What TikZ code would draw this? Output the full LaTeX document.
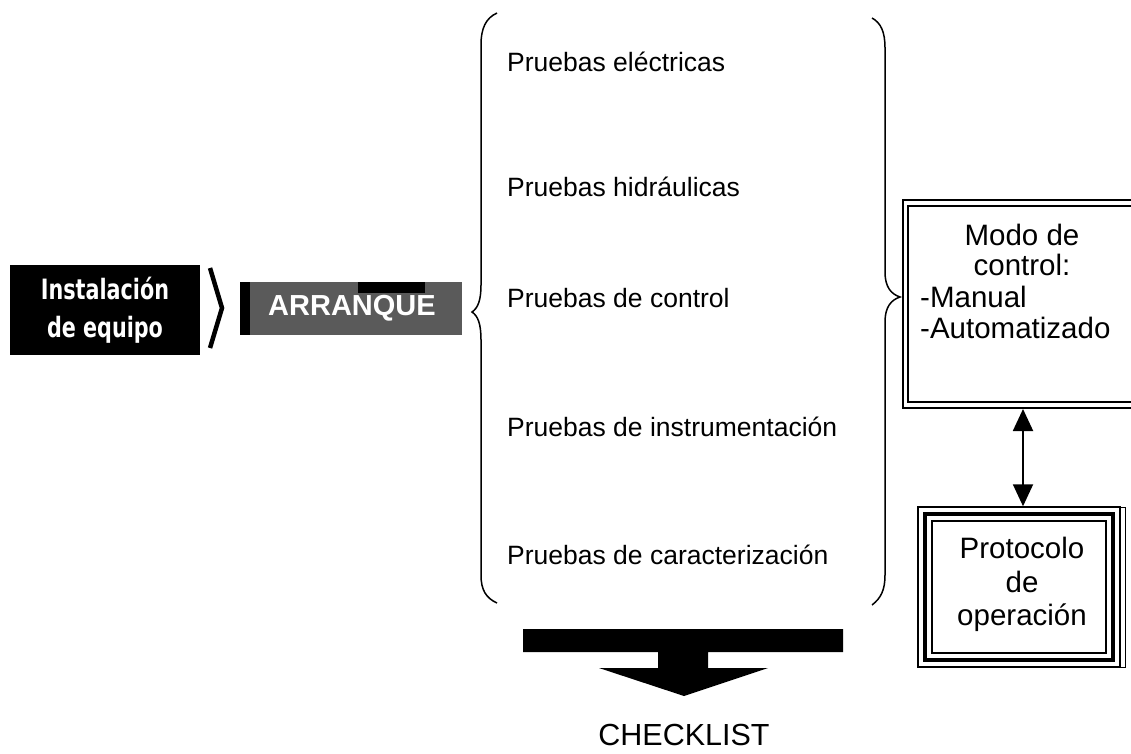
\documentclass[tikz,border=0pt]{standalone}
\usepackage{fontspec}
\setmainfont{Liberation Sans}
\newfontfamily\instfont{DejaVu Sans}
\usetikzlibrary{arrows.meta}
\definecolor{arrgray}{HTML}{5A5A5A}
\begin{document}
\begin{tikzpicture}[x=1pt,y=-1pt,
  prueba/.style={font=\fontsize{26.5}{30}\selectfont, anchor=base west, inner sep=0pt},
  boxtxt/.style={font=\fontsize{29.5}{32}\selectfont, inner sep=0pt},
  brace/.style={line width=1.5pt},
  dbl/.style={{Triangle[width=20pt,length=22pt]}-{Triangle[width=20pt,length=22pt]}, line width=2pt}]
\useasboundingbox (0,0) rectangle (1131,753);

% Instalacion de equipo
\node[fill=black, text=white, minimum width=190pt, minimum height=90pt, inner sep=0pt,
      align=center, font=\instfont\bfseries\fontsize{28}{38}\selectfont] (inst) at (105,310)
  {\scalebox{0.74}[1]{Instalación}\\\scalebox{0.74}[1]{de equipo}};

% chevron
\draw[line width=4.5pt] (210,268) -- (222,308) -- (210,348);

% ARRANQUE
\fill[black] (240,282) rectangle (250,335);
\node[fill=arrgray, text=white, minimum width=212pt, minimum height=53pt, inner sep=0pt,
      font=\bfseries\fontsize{29}{32}\selectfont] (arr) at (356,308.5) {\hspace*{-8pt}ARRANQUE};
\fill[black] (358,282) rectangle (425,293);

% left brace
\coordinate (lbtip) at (472,312);
\draw[brace] (497,13) .. controls (486,18) and (481,28) .. (481,45) -- (481,285)
  .. controls (481,300) and (478,308) .. (lbtip)
  .. controls (478,316) and (481,324) .. (481,340) -- (481,575)
  .. controls (481,590) and (486,598) .. (497,603);

% right brace
\coordinate (rbtip) at (900,297);
\draw[brace] (872,18) .. controls (881,23) and (885,32) .. (885,48) -- (885,272)
  .. controls (885,287) and (891,294) .. (rbtip)
  .. controls (891,300) and (885,307) .. (885,322) -- (885,575)
  .. controls (885,590) and (881,598) .. (872,605);

% Pruebas
\node[prueba] (p1) at (507,71) {Pruebas eléctricas};
\node[prueba] (p2) at (507,196) {Pruebas hidráulicas};
\node[prueba] (p3) at (507,307) {Pruebas de control};
\node[prueba] (p4) at (507,436) {Pruebas de instrumentación};
\node[prueba] (p5) at (507,564) {Pruebas de caracterización};

% Modo de control box
\node[draw, line width=2pt, minimum width=240pt, minimum height=208pt, inner sep=0pt] (modo) at (1023,304) {};
\draw[line width=2pt] (908,206) rectangle (1140,402);
\node[boxtxt, anchor=base] (m1) at (1022,245) {Modo de};
\node[boxtxt, anchor=base] (m2) at (1022,275) {control:};
\node[boxtxt, anchor=base west] (m3) at (920,307) {-Manual};
\node[boxtxt, anchor=base west] (m4) at (920,338) {-Automatizado};

% Protocolo box
\node[draw, line width=1.5pt, minimum width=202pt, minimum height=160pt, inner sep=0pt] (proto) at (1019,587) {};
\draw[line width=4pt] (925,514) rectangle (1113,660);
\draw[line width=1.5pt] (932,521) rectangle (1106,653);
\draw[line width=1pt] (1119,507) -- (1125,507) -- (1125,667) -- (1119,667);
\node[boxtxt, anchor=base] (q1) at (1022,558) {Protocolo};
\node[boxtxt, anchor=base] (q2) at (1022,592) {de};
\node[boxtxt, anchor=base] (q3) at (1022,625) {operación};

% double arrow
\draw[dbl] (modo.south) -- (modo.south |- proto.north);

% checklist arrow
\fill[black] (523,629) -- (843,629) -- (843,652) -- (708,652) -- (708,668) -- (768,668)
  -- (684,696) -- (599,668) -- (658,668) -- (658,652) -- (523,652) -- cycle;
\coordinate (arrowtip) at (684,696);
\node[font=\fontsize{30.5}{34}\selectfont, anchor=base] (chk) at (684,745) {CHECKLIST};
\end{tikzpicture}
\end{document}
